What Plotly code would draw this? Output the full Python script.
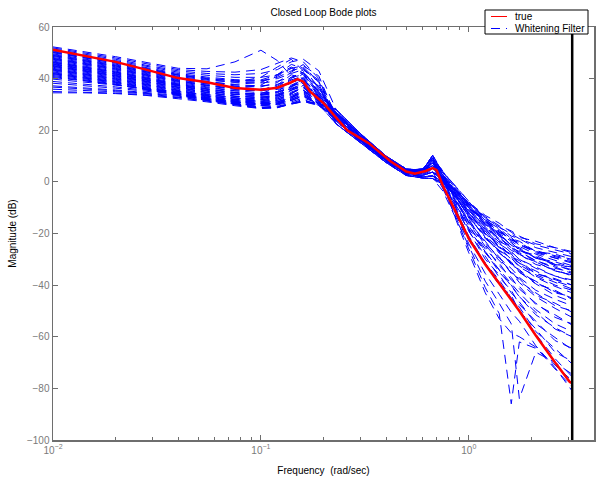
import math
import plotly.graph_objects as go

# ---------------- data ----------------
# frequency grid (rad/sec) for the whitening-filter estimates
filter_freqs = [0.01, 0.014, 0.02, 0.028, 0.04, 0.055, 0.075, 0.1, 0.12, 0.14, 0.16,
                0.19, 0.23, 0.3, 0.4, 0.5, 0.6, 0.67,
                0.75, 0.87, 1.0, 1.2, 1.4, 1.6, 1.75, 2.1, 2.6, 3.14]

# magnitude (dB) of each whitening-filter estimate
filter_mags = [
    [52.3, 50.5, 48.5, 46.3, 44.0, 43.8, 46.5, 51.0, 47.0, 41.0, 38.0, 33.0, 27.0, 18.3, 9.5, 4.5, 3.5, 8.3, 1.5, -6.0, -13.5, -21.5, -27.0, -31.5, -34.5, -39.0, -42.5, -45.0],
    [51.9, 50.0, 48.0, 45.8, 43.5, 42.8, 42.5, 43.5, 46.0, 48.0, 46.5, 40.0, 23.5, 15.8, 8.0, 3.0, 2.0, 2.3, 0.0, -4.5, -9.5, -15.0, -19.5, -22.0, -24.5, -26.5, -29.0, -30.5],
    [51.5, 49.6, 47.5, 45.2, 43.0, 42.0, 41.5, 42.0, 43.5, 46.5, 47.5, 43.0, 28.0, 18.8, 10.0, 5.0, 4.5, 10.3, 3.0, -7.5, -17.0, -27.0, -34.0, -40.5, -44.5, -51.5, -56.5, -60.0],
    [51.1, 49.2, 47.0, 44.8, 42.5, 41.3, 40.5, 40.5, 41.5, 44.0, 45.0, 41.0, 25.0, 16.8, 8.5, 4.0, 4.0, 6.3, 2.0, -4.5, -11.0, -17.5, -22.0, -25.5, -28.0, -31.0, -34.5, -36.0],
    [50.7, 48.8, 46.6, 44.3, 42.0, 40.6, 39.6, 39.3, 40.0, 42.0, 43.5, 39.0, 22.5, 15.3, 7.5, 2.5, 1.5, 1.3, 0.0, -3.5, -8.0, -13.0, -16.0, -19.5, -21.5, -23.0, -25.5, -27.0],
    [50.4, 48.5, 46.3, 44.0, 41.6, 40.2, 39.2, 39.5, 41.5, 45.5, 44.0, 36.5, 26.0, 17.3, 9.0, 4.0, 4.5, 7.3, 1.5, -7.0, -15.5, -23.0, -30.0, -34.5, -38.5, -43.0, -48.0, -50.0],
    [50.0, 48.1, 46.0, 43.6, 41.3, 39.7, 38.6, 38.3, 39.0, 40.5, 41.5, 37.0, 24.0, 16.3, 8.5, 3.5, 2.5, 3.8, 1.0, -3.5, -9.5, -16.5, -20.5, -24.5, -26.0, -29.5, -31.5, -33.5],
    [49.6, 47.7, 45.6, 43.3, 40.9, 39.4, 38.6, 40.5, 44.5, 47.5, 43.0, 35.0, 26.5, 17.8, 9.5, 4.5, 5.0, 9.3, 1.0, -11.0, -21.5, -31.5, -39.0, -45.0, -49.5, -59.0, -68.5, -75.5],
    [49.3, 47.4, 45.3, 43.0, 40.6, 38.9, 37.6, 37.2, 37.8, 39.5, 41.0, 36.0, 27.0, 18.3, 9.5, 4.5, 3.5, 8.3, 2.5, -5.0, -12.5, -19.0, -25.0, -28.5, -31.5, -35.5, -38.0, -40.0],
    [48.9, 47.0, 44.9, 42.6, 40.2, 38.5, 37.2, 36.8, 38.5, 42.5, 45.5, 38.0, 23.5, 15.8, 8.0, 3.0, 2.0, 2.3, -0.5, -5.0, -10.0, -15.5, -19.0, -22.5, -23.5, -27.0, -28.5, -30.0],
    [48.6, 46.7, 44.6, 42.3, 39.9, 38.1, 36.8, 36.0, 36.3, 37.5, 39.5, 34.0, 28.0, 18.8, 10.0, 5.0, 4.5, 10.3, 3.5, -7.0, -16.0, -25.0, -32.5, -37.0, -41.5, -47.0, -52.5, -55.0],
    [48.2, 46.4, 44.3, 42.0, 39.6, 37.9, 36.8, 37.5, 41.0, 44.0, 41.5, 33.5, 25.0, 16.8, 8.5, 4.0, 4.0, 6.3, 2.0, -4.0, -10.0, -18.0, -22.5, -26.5, -28.0, -32.0, -34.0, -36.5],
    [47.9, 46.1, 44.0, 41.7, 39.3, 37.5, 36.2, 35.5, 35.8, 37.0, 38.5, 33.0, 22.5, 15.3, 7.5, 2.5, 1.5, 1.3, -0.5, -4.0, -8.5, -13.5, -17.0, -19.0, -21.0, -24.0, -25.5, -27.5],
    [47.5, 45.7, 43.6, 41.3, 38.9, 37.2, 35.8, 35.2, 36.5, 40.0, 43.5, 39.5, 26.0, 17.3, 9.0, 4.0, 4.5, 7.3, 0.5, -10.0, -19.0, -30.0, -36.0, -43.0, -46.5, -55.0, -60.5, -65.0],
    [47.2, 45.4, 43.3, 41.0, 38.6, 36.8, 35.3, 34.5, 34.8, 36.2, 38.0, 32.5, 24.0, 16.3, 8.5, 3.5, 2.5, 3.8, 0.5, -4.0, -10.0, -15.5, -21.0, -23.5, -26.5, -28.5, -32.0, -33.0],
    [46.8, 45.0, 42.9, 40.6, 38.2, 36.5, 35.2, 35.5, 37.5, 41.5, 40.0, 32.0, 26.5, 17.8, 9.5, 4.5, 5.0, 9.3, 3.0, -5.5, -14.0, -21.0, -27.5, -31.0, -35.0, -38.5, -43.0, -44.5],
    [46.5, 44.7, 42.6, 40.3, 37.9, 36.1, 34.6, 33.8, 34.0, 35.5, 37.5, 33.5, 27.0, 18.3, 9.5, 4.5, 3.5, 8.3, -2.5, -14.0, -26.0, -41.0, -51.0, -86.0, -62.0, -64.5, -71.0, -77.0],
    [46.1, 44.3, 42.3, 40.0, 37.6, 35.8, 34.4, 33.8, 35.0, 38.5, 42.0, 37.0, 23.5, 15.8, 8.0, 3.0, 2.0, 2.3, 0.0, -6.0, -12.5, -19.0, -25.5, -28.0, -31.5, -34.5, -38.5, -40.5],
    [45.8, 44.0, 42.0, 39.7, 37.3, 35.4, 33.9, 33.2, 33.4, 34.8, 36.5, 31.5, 28.0, 18.8, 10.0, 5.0, 4.5, 10.3, 4.0, -2.0, -8.0, -15.0, -18.0, -22.0, -23.0, -27.0, -28.0, -30.0],
    [45.4, 43.6, 41.6, 39.4, 37.0, 35.1, 33.8, 34.2, 36.5, 39.5, 38.0, 31.0, 25.0, 16.8, 8.5, 4.0, 4.0, 6.3, -1.0, -11.5, -21.0, -31.5, -38.0, -45.0, -48.5, -58.0, -64.5, -70.5],
    [45.1, 43.3, 41.3, 39.1, 36.7, 34.7, 33.2, 32.5, 32.8, 34.2, 36.5, 32.5, 22.5, 15.3, 7.5, 2.5, 1.5, 1.3, -1.0, -5.5, -11.0, -17.0, -23.0, -25.5, -28.5, -31.0, -34.5, -36.0],
    [44.7, 43.0, 41.0, 38.8, 36.4, 34.5, 33.1, 32.6, 33.8, 37.0, 40.5, 35.5, 26.0, 17.3, 9.0, 4.0, 4.5, 7.3, 1.0, -7.5, -14.5, -24.0, -29.0, -35.5, -37.5, -44.0, -47.0, -50.5],
    [44.4, 42.7, 40.7, 38.5, 36.1, 34.1, 32.6, 31.9, 32.2, 33.6, 35.5, 30.5, 24.0, 16.3, 8.5, 3.5, 2.5, 3.8, 1.5, -3.0, -9.0, -16.0, -20.0, -24.5, -25.5, -29.5, -31.0, -33.0],
    [44.0, 42.3, 40.4, 38.2, 35.8, 33.9, 32.5, 32.2, 33.5, 36.0, 37.5, 31.5, 26.5, 17.8, 9.5, 4.5, 5.0, 9.3, -2.0, -13.0, -24.0, -35.5, -43.5, -50.5, -54.0, -63.5, -72.0, -81.0],
    [43.7, 42.0, 40.1, 37.9, 35.5, 33.5, 32.0, 31.3, 31.6, 33.0, 35.0, 30.0, 27.0, 18.3, 9.5, 4.5, 3.5, 8.3, 1.0, -6.5, -13.0, -22.0, -26.5, -32.0, -34.0, -39.5, -42.0, -45.5],
    [43.3, 41.6, 39.7, 37.6, 35.2, 33.2, 31.8, 31.3, 32.5, 35.5, 39.0, 34.0, 23.5, 15.8, 8.0, 3.0, 2.0, 2.3, 0.5, -3.5, -8.0, -14.0, -17.5, -20.0, -22.0, -24.5, -26.5, -28.0],
    [43.0, 41.3, 39.4, 37.3, 34.9, 32.9, 31.4, 30.7, 31.0, 32.5, 34.5, 30.5, 28.0, 18.8, 10.0, 5.0, 4.5, 10.3, 2.5, -8.5, -18.5, -27.0, -35.0, -40.0, -44.5, -50.5, -57.0, -60.0],
    [42.6, 41.0, 39.1, 37.0, 34.6, 32.6, 31.3, 31.0, 32.0, 34.5, 36.5, 31.0, 25.0, 16.8, 8.5, 4.0, 4.0, 6.3, 1.5, -5.5, -11.5, -20.0, -24.0, -29.0, -30.5, -35.5, -37.5, -40.0],
    [42.3, 40.7, 38.8, 36.7, 34.3, 32.3, 30.9, 30.3, 30.6, 32.0, 34.0, 30.0, 22.5, 15.3, 7.5, 2.5, 1.5, 1.3, -3.5, -14.5, -25.0, -38.5, -47.0, -55.0, -84.0, -66.0, -70.0, -74.5],
    [41.9, 40.3, 38.5, 36.4, 34.0, 32.0, 30.7, 30.5, 31.5, 34.0, 37.5, 33.0, 26.0, 17.3, 9.0, 4.0, 4.5, 7.3, 2.0, -4.0, -10.5, -17.0, -22.0, -25.0, -27.5, -30.5, -33.5, -35.0],
    [41.6, 40.0, 38.2, 36.1, 33.7, 31.7, 30.3, 29.8, 30.2, 31.5, 33.5, 29.5, 24.0, 16.3, 8.5, 3.5, 2.5, 3.8, -1.0, -9.0, -17.0, -26.0, -31.5, -38.0, -40.5, -47.5, -51.5, -55.5],
    [41.2, 39.7, 37.9, 35.8, 33.5, 31.5, 30.1, 29.5, 30.0, 31.5, 33.0, 30.5, 26.5, 17.8, 9.5, 4.5, 5.0, 9.3, 4.0, -2.5, -8.5, -14.5, -19.5, -21.5, -24.5, -27.0, -29.5, -31.0],
    [39.8, 38.8, 37.5, 36.0, 35.0, 33.8, 32.5, 31.0, 31.0, 32.5, 35.0, 31.5, 27.0, 18.3, 9.5, 4.5, 3.5, 8.3, 0.0, -10.5, -19.0, -29.0, -37.0, -42.0, -47.5, -54.0, -61.5, -64.5],
    [38.9, 38.0, 36.8, 35.5, 34.5, 33.2, 31.6, 30.2, 30.4, 31.5, 33.5, 30.0, 23.5, 15.8, 8.0, 3.0, 2.0, 2.3, -1.0, -6.5, -13.0, -20.5, -26.5, -29.5, -33.0, -36.5, -40.0, -42.0],
    [38.2, 37.4, 36.3, 35.1, 34.0, 32.6, 31.0, 29.6, 29.8, 31.0, 32.5, 30.5, 28.0, 18.8, 10.0, 5.0, 4.5, 10.3, 0.0, -15.0, -27.5, -43.0, -53.0, -58.5, -60.0, -64.0, -72.5, -79.5],
    [37.2, 36.5, 35.6, 34.6, 33.5, 32.2, 30.5, 29.0, 29.3, 30.5, 32.0, 29.5, 25.0, 16.8, 8.5, 4.0, 4.0, 6.3, 1.5, -5.0, -11.0, -18.5, -24.0, -27.0, -30.0, -33.0, -36.5, -38.0],
    [36.7, 36.1, 35.3, 34.3, 33.2, 31.9, 30.2, 28.8, 29.0, 30.3, 31.5, 30.0, 22.5, 15.3, 7.5, 2.5, 1.5, 1.3, -2.0, -8.5, -15.0, -23.5, -29.5, -33.5, -37.0, -42.0, -45.5, -48.0],
    [35.9, 35.5, 34.9, 34.1, 32.9, 31.6, 30.0, 28.6, 28.8, 30.0, 31.2, 29.5, 26.0, 17.3, 9.0, 4.0, 4.5, 7.3, 3.5, -2.0, -7.5, -14.0, -17.5, -21.0, -22.0, -25.5, -27.5, -29.0],
    [35.0, 34.8, 34.4, 33.7, 32.6, 31.3, 29.8, 28.5, 28.9, 30.2, 31.0, 30.0, 24.0, 16.3, 8.5, 3.5, 2.5, 3.8, -2.5, -12.5, -22.5, -32.0, -40.0, -44.0, -50.0, -57.0, -66.0, -69.5],
    [34.5, 34.5, 34.2, 33.5, 32.2, 31.0, 29.5, 28.4, 28.7, 30.3, 31.2, 30.5, 26.5, 17.8, 9.5, 4.5, 5.0, 9.3, 3.5, -3.0, -9.0, -16.0, -21.0, -23.5, -26.5, -29.0, -32.5, -34.0],
    [50.2, 48.3, 46.1, 43.8, 41.4, 40.0, 39.0, 39.0, 40.5, 43.0, 44.5, 38.5, 25.5, 17.0, 8.8, 4.2, 4.2, 7.0, 2.5, -3.0, -8.5, -14.5, -18.5, -22.5, -24.0, -27.5, -29.5, -31.5],
    [47.7, 45.9, 43.8, 41.5, 39.1, 37.4, 36.0, 35.8, 37.0, 40.5, 42.5, 36.5, 24.5, 16.5, 8.3, 3.8, 3.0, 5.0, 0.5, -6.0, -12.0, -20.0, -25.5, -30.0, -32.5, -37.0, -40.5, -43.0],
    [45.6, 43.8, 41.8, 39.6, 37.2, 35.3, 33.9, 33.5, 34.5, 37.0, 39.5, 34.5, 25.8, 17.5, 9.2, 4.3, 4.8, 8.5, 2.5, -4.5, -11.5, -18.5, -23.5, -27.5, -30.0, -33.5, -36.5, -38.5],
    [44.9, 43.1, 41.1, 38.9, 36.5, 34.6, 33.2, 32.9, 33.4, 35.5, 37.0, 31.5, 24.3, 16.0, 8.2, 3.3, 2.8, 4.5, 0.0, -8.0, -15.5, -24.5, -30.5, -35.0, -39.0, -44.5, -49.0, -52.5],
    [43.5, 41.8, 39.9, 37.7, 35.3, 33.4, 32.0, 31.8, 33.0, 36.5, 40.0, 35.0, 26.2, 17.6, 9.3, 4.6, 4.2, 8.8, 3.0, -3.5, -9.5, -15.0, -20.0, -23.0, -25.0, -28.0, -30.5, -32.5],
    [42.0, 40.4, 38.6, 36.5, 34.1, 32.1, 30.8, 30.4, 31.0, 33.0, 35.5, 31.0, 25.2, 16.6, 8.6, 4.1, 3.8, 6.8, 1.0, -6.0, -13.5, -21.0, -27.5, -31.5, -35.0, -39.5, -44.0, -46.5],
    [40.8, 39.4, 37.7, 35.8, 33.8, 31.9, 30.4, 29.8, 30.3, 32.0, 34.0, 30.5, 24.8, 16.6, 8.7, 3.9, 3.3, 5.5, 2.0, -4.0, -10.0, -16.5, -21.5, -25.5, -27.0, -30.5, -33.0, -35.5],
    [40.4, 39.2, 37.6, 35.9, 34.2, 32.6, 31.2, 30.1, 30.5, 32.5, 35.5, 32.0, 26.8, 18.0, 9.4, 4.4, 4.0, 9.0, 1.0, -9.5, -18.0, -27.5, -34.0, -39.5, -43.0, -49.5, -55.0, -58.0],
    [49.0, 47.1, 45.0, 42.7, 40.3, 38.7, 37.8, 38.5, 41.5, 44.5, 42.0, 34.5, 25.6, 17.2, 8.9, 4.1, 4.3, 7.6, 2.0, -3.5, -9.0, -15.5, -20.5, -24.5, -26.5, -29.5, -32.0, -34.5],
    [46.3, 44.5, 42.5, 40.2, 37.8, 36.0, 34.6, 34.0, 34.8, 37.0, 39.0, 33.5, 24.2, 16.1, 8.3, 3.6, 3.2, 5.2, 1.5, -5.5, -12.0, -19.5, -25.0, -29.0, -32.0, -36.0, -39.0, -41.5],
]

# true closed-loop magnitude (dB)
true_freqs = [0.01, 0.014, 0.02, 0.028, 0.04, 0.055, 0.075, 0.1, 0.12, 0.14, 0.15, 0.16,
              0.172, 0.2, 0.26, 0.33, 0.42, 0.5, 0.55, 0.62, 0.67, 0.7, 0.75, 0.87,
              1.0, 1.2, 1.4, 1.6, 1.75, 2.1, 2.6, 3.06, 3.14]
true_mags = [51.2, 49.0, 46.5, 43.5, 40.2, 38.6, 36.4, 35.7, 36.5, 38.6, 39.8, 38.8,
             35.0, 30.5, 20.0, 15.0, 8.0, 4.0, 3.2, 4.2, 5.3, 4.5, -1.5, -12.0,
             -22.0, -32.0, -39.5, -45.5, -50.0, -59.5, -70.0, -77.5, -78.0]

nyquist_freq = [math.pi, math.pi]
nyquist_mag = [-100, 60]

x_tick_vals = [0.01, 0.1, 1]
x_tick_text = ["10<sup>−2</sup>", "10<sup>−1</sup>", "10<sup>0</sup>"]
x_minor_vals = [0.02, 0.03, 0.04, 0.05, 0.06, 0.07, 0.08, 0.09,
                0.2, 0.3, 0.4, 0.5, 0.6, 0.7, 0.8, 0.9, 2, 3, 4]

legend_labels = ["true", "Whitening Filter"]

# ---------------- figure ----------------
W, H = 596, 479
L, R, T, B = 53, 2, 27, 39
PW, PH = W - L - R, H - T - B


def px_x(p):
    return (p - L) / PW


def px_y(p):
    return (H - B - p) / PH


fig = go.Figure()

for i, mags in enumerate(filter_mags):
    fig.add_trace(go.Scatter(
        x=filter_freqs, y=mags, mode="lines",
        line=dict(color="#0000ff", width=1, dash="9px,6px"),
        name="Whitening Filter", showlegend=False, hoverinfo="skip"))

fig.add_trace(go.Scatter(
    x=true_freqs, y=true_mags, mode="lines",
    line=dict(color="#ff0000", width=2.5),
    name="true", showlegend=False, hoverinfo="skip"))

fig.add_trace(go.Scatter(
    x=nyquist_freq, y=nyquist_mag, mode="lines",
    line=dict(color="#000000", width=2.5),
    showlegend=False, hoverinfo="skip"))

axis_gray = "#6e6e6e"
label_gray = "#7a7a7a"
font_family = "Liberation Sans, Arial, Helvetica, sans-serif"

# legend box drawn in the top-right corner, overlapping the axes frame
shapes = [
    dict(type="rect", xref="paper", yref="paper", layer="above",
         x0=px_x(485), x1=px_x(588), y0=px_y(34), y1=px_y(10),
         fillcolor="white", line=dict(color="black", width=1)),
    dict(type="line", xref="paper", yref="paper", layer="above",
         x0=px_x(491), x1=px_x(507), y0=px_y(16.5), y1=px_y(16.5),
         line=dict(color="#ff0000", width=1)),
    dict(type="line", xref="paper", yref="paper", layer="above",
         x0=px_x(491), x1=px_x(507), y0=px_y(28.5), y1=px_y(28.5),
         line=dict(color="#0000ff", width=1, dash="9px,6px")),
]
annotations = [
    dict(text=legend_labels[0], xref="paper", yref="paper", x=px_x(513), y=px_y(16.5),
         xanchor="left", yanchor="middle", showarrow=False,
         font=dict(size=10, color="black")),
    dict(text=legend_labels[1], xref="paper", yref="paper", x=px_x(513), y=px_y(28.5),
         xanchor="left", yanchor="middle", showarrow=False,
         font=dict(size=10, color="black")),
]

fig.update_layout(
    width=W, height=H, autosize=False,
    margin=dict(l=L, r=R, t=T, b=B, pad=0, autoexpand=False),
    paper_bgcolor="white", plot_bgcolor="white",
    font=dict(family=font_family, size=10, color="black"),
    title=dict(text="Closed Loop Bode plots", x=0.5, xref="paper",
               y=1 - 12 / H, yref="container", yanchor="middle",
               font=dict(size=10, color="black")),
    showlegend=False,
    shapes=shapes, annotations=annotations,
    xaxis=dict(type="log", range=[-2, math.log10(4)], automargin=False,
               tickmode="array", tickvals=x_tick_vals, ticktext=x_tick_text,
               ticks="inside", ticklen=5, tickwidth=1, tickcolor=axis_gray,
               minor=dict(tickmode="array", tickvals=x_minor_vals, ticks="inside",
                          ticklen=3, tickcolor=axis_gray, showgrid=False),
               showline=True, linecolor=axis_gray, linewidth=1.5, mirror="ticks",
               showgrid=False, zeroline=False,
               tickfont=dict(size=10, color=label_gray),
               title=dict(text="Frequency\u00a0 (rad/sec)", standoff=12,
                          font=dict(size=10, color="black"))),
    yaxis=dict(range=[-100, 60], tickmode="linear", tick0=-100, dtick=20,
               automargin=False,
               ticks="inside", ticklen=5, tickwidth=1, tickcolor=axis_gray,
               showline=True, linecolor=axis_gray, linewidth=1.5, mirror="ticks",
               showgrid=False, zeroline=False,
               tickfont=dict(size=10, color=label_gray),
               title=dict(text="Magnitude (dB)", standoff=8,
                          font=dict(size=10, color="black"))),
)

fig.write_html(
    "out.html",
    config={"displayModeBar": False, "staticPlot": True},
    post_script="document.body.style.margin='0';document.body.style.overflow='hidden';",
)
